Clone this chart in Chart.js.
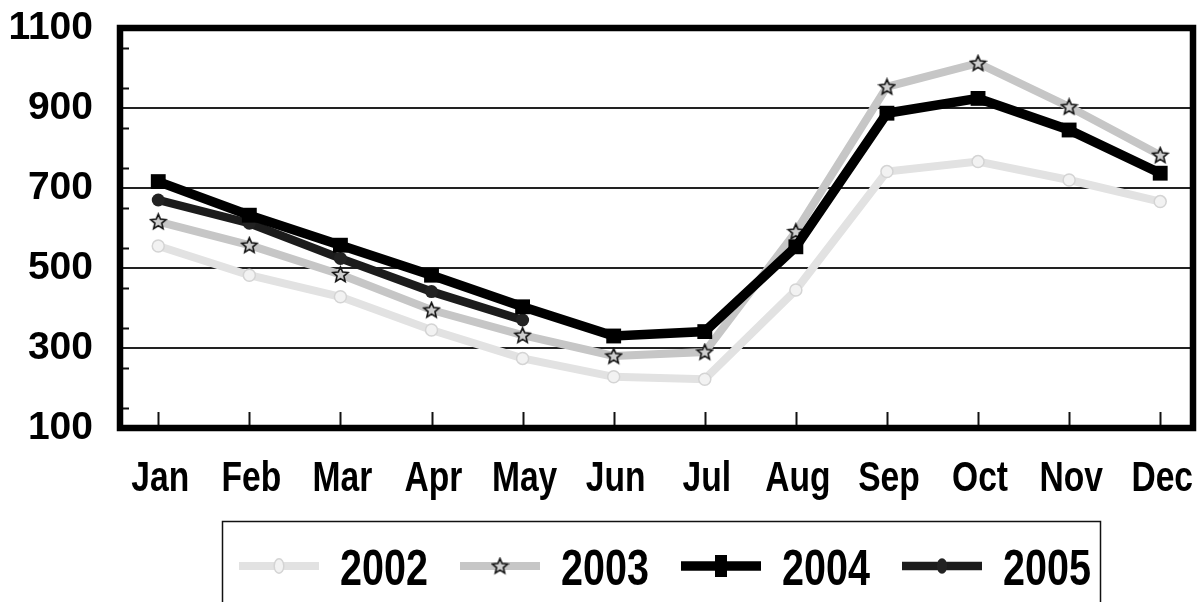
<!DOCTYPE html>
<html>
<head>
<meta charset="utf-8">
<script src="https://cdn.jsdelivr.net/npm/chart.js@4.4.1/dist/chart.umd.min.js"></script>
<style>
  html, body { margin: 0; padding: 0; background: #ffffff; }
  #wrap { width: 1199px; height: 602px; position: relative; }
</style>
</head>
<body>
<div id="wrap"><canvas id="c" width="1199" height="602"></canvas></div>
<script>
// ---- data ----
const months = ['Jan','Feb','Mar','Apr','May','Jun','Jul','Aug','Sep','Oct','Nov','Dec'];
const seriesLabels = ['2002','2003','2004','2005'];
const values2002 = [555, 482, 428, 345, 274, 228, 222, 445, 741, 766, 720, 666];
const values2003 = [616, 557, 484, 395, 332, 280, 290, 591, 953, 1012, 903, 782];
const values2004 = [716, 632, 557, 482, 403, 330, 341, 553, 887, 924, 845, 737];
const values2005 = [670, 612, 524, 441, 370, null, null, null, null, null, null, null];
const yTickLabels = [100, 300, 500, 700, 900, 1100];

const FONT = "'Liberation Sans', Arial, sans-serif";

function toPoints(arr) { return arr.map((v, i) => ({ x: i, y: v })); }

function makeStar(size) {
  const c = document.createElement('canvas');
  c.width = size; c.height = size;
  const g = c.getContext('2d');
  const cx = size / 2, cy = size / 2 + 0.5, R = size / 2 - 1.5, r = R * 0.45;
  g.beginPath();
  for (let k = 0; k < 10; k++) {
    const ang = -Math.PI / 2 + k * Math.PI / 5;
    const rad = k % 2 === 0 ? R : r;
    const px = cx + rad * Math.cos(ang), py = cy + rad * Math.sin(ang);
    if (k === 0) g.moveTo(px, py); else g.lineTo(px, py);
  }
  g.closePath();
  g.fillStyle = '#cfcfcf';
  g.fill();
  g.lineWidth = 1.6;
  g.strokeStyle = '#111111';
  g.stroke();
  return c;
}
const starImg = makeStar(19);

const datasets = [
  { label: seriesLabels[0], data: toPoints(values2002), borderColor: '#e2e2e2', borderWidth: 8,
    pointStyle: 'circle', pointRadius: 6, pointBackgroundColor: '#f2f2f2', pointBorderColor: '#d4d4d4', pointBorderWidth: 1.5, order: 4 },
  { label: seriesLabels[1], data: toPoints(values2003), borderColor: '#c6c6c6', borderWidth: 8,
    pointStyle: starImg, pointRadius: 9, order: 3 },
  { label: seriesLabels[2], data: toPoints(values2004), borderColor: '#000000', borderWidth: 9.5,
    pointStyle: 'rect', pointRadius: 10.5, pointBackgroundColor: '#000000', pointBorderColor: '#000000', pointBorderWidth: 0, order: 1 },
  { label: seriesLabels[3], data: toPoints(values2005), borderColor: '#1c1c1c', borderWidth: 8.5,
    pointStyle: 'circle', pointRadius: 6.5, pointBackgroundColor: '#222222', pointBorderColor: '#222222', pointBorderWidth: 0, order: 2 }
];
datasets.forEach(d => { d.fill = false; d.tension = 0; d.spanGaps = false; d.pointHoverRadius = d.pointRadius; });

// condensed text helper (narrow bold face, as in the original)
function narrowText(ctx, text, x, y, size, sx, align) {
  ctx.save();
  ctx.font = 'bold ' + size + 'px ' + FONT;
  ctx.textBaseline = 'alphabetic';
  ctx.textAlign = align;
  ctx.translate(x, y);
  ctx.scale(sx, 1);
  ctx.fillStyle = '#000';
  ctx.fillText(text, 0, 0);
  ctx.restore();
}

// frame, minor ticks, month labels and legend
const decorPlugin = {
  id: 'decor',
  afterDatasetsDraw(chart) {
    const ctx = chart.ctx, a = chart.chartArea;
    const ys = chart.scales.y, xs = chart.scales.x;
    ctx.save();
    ctx.strokeStyle = '#111'; ctx.lineWidth = 2;
    for (let v = 150; v < 1100; v += 100) {
      const py = Math.round(ys.getPixelForValue(v)) + 0.5;
      ctx.beginPath(); ctx.moveTo(a.left, py); ctx.lineTo(a.left + 9, py); ctx.stroke();
    }
    xs.ticks.forEach((t) => {
      const px = Math.round(xs.getPixelForValue(t.value)) + 0.5;
      ctx.beginPath(); ctx.moveTo(px, a.bottom); ctx.lineTo(px, a.bottom - 16); ctx.stroke();
    });
    ctx.lineWidth = 6.5; ctx.strokeStyle = '#000';
    ctx.strokeRect(a.left, a.top, a.right - a.left, a.bottom - a.top);
    ctx.restore();
  },
  afterDraw(chart) {
    const ctx = chart.ctx, a = chart.chartArea, xs = chart.scales.x;
    // month labels along the x axis
    xs.ticks.forEach((t) => {
      narrowText(ctx, months[t.value], xs.getPixelForValue(t.value) + 2, a.bottom + 63, 42, 0.8, 'center');
    });
    ctx.save();
    // legend box (runs off the bottom)
    ctx.strokeStyle = '#111'; ctx.lineWidth = 1.5;
    ctx.strokeRect(222.5, 521.5, 878, 120);
    const y = 566;
    const startX = [239, 460, 681, 902];
    chart.data.datasets.forEach((d, i) => {
      const x0 = startX[i];
      ctx.strokeStyle = d.borderColor; ctx.lineWidth = d.borderWidth;
      ctx.beginPath(); ctx.moveTo(x0, y); ctx.lineTo(x0 + 80, y); ctx.stroke();
      const cx = x0 + 40;
      if (d.pointStyle instanceof HTMLCanvasElement) {
        ctx.drawImage(d.pointStyle, cx - d.pointStyle.width / 2, y - d.pointStyle.height / 2);
      } else if (d.pointStyle === 'rect') {
        ctx.fillStyle = d.pointBackgroundColor;
        ctx.fillRect(cx - 6, y - 11, 12, 22);
      } else {
        ctx.beginPath(); ctx.ellipse(cx, y, d.pointRadius * 0.8, d.pointRadius * 1.2, 0, 0, Math.PI * 2);
        ctx.fillStyle = d.pointBackgroundColor; ctx.fill();
        if (d.pointBorderWidth) { ctx.lineWidth = d.pointBorderWidth; ctx.strokeStyle = d.pointBorderColor; ctx.stroke(); }
      }
      narrowText(ctx, d.label, x0 + 101, 585, 50, 0.79, 'left');
    });
    ctx.restore();
  }
};

new Chart(document.getElementById('c'), {
  type: 'line',
  data: { datasets },
  options: {
    responsive: false,
    animation: false,
    devicePixelRatio: 1,
    layout: { autoPadding: false, padding: { top: 28, right: 6, left: 0, bottom: 0 } },
    plugins: { legend: { display: false }, tooltip: { enabled: false } },
    scales: {
      x: {
        type: 'linear', min: -0.42, max: 11.36,
        afterBuildTicks: (s) => { s.ticks = months.map((m, i) => ({ value: i })); },
        afterFit: (s) => { s.height = 174; s.paddingLeft = 0; s.paddingRight = 0; },
        grid: { display: false, drawTicks: false },
        border: { display: false },
        ticks: { display: false, autoSkip: false, maxRotation: 0, callback: (v) => months[v] }
      },
      y: {
        min: 100, max: 1100,
        afterBuildTicks: (s) => {
          const t = [];
          for (let v = 100; v <= 1100; v += 100) t.push({ value: v });
          s.ticks = t;
        },
        afterFit: (s) => { s.width = 120; s.paddingTop = 0; s.paddingBottom = 0; },
        border: { display: false },
        grid: {
          drawTicks: false, lineWidth: 2,
          color: (c) => (c.tick && c.tick.value > 100 && c.tick.value < 1100) ? '#222' : 'rgba(0,0,0,0)'
        },
        ticks: {
          padding: 27, color: '#000',
          font: { family: FONT, size: 39, weight: 'bold' },
          callback: (v) => yTickLabels.includes(v) ? String(v) : ''
        }
      }
    }
  },
  plugins: [decorPlugin]
});
</script>
</body>
</html>
